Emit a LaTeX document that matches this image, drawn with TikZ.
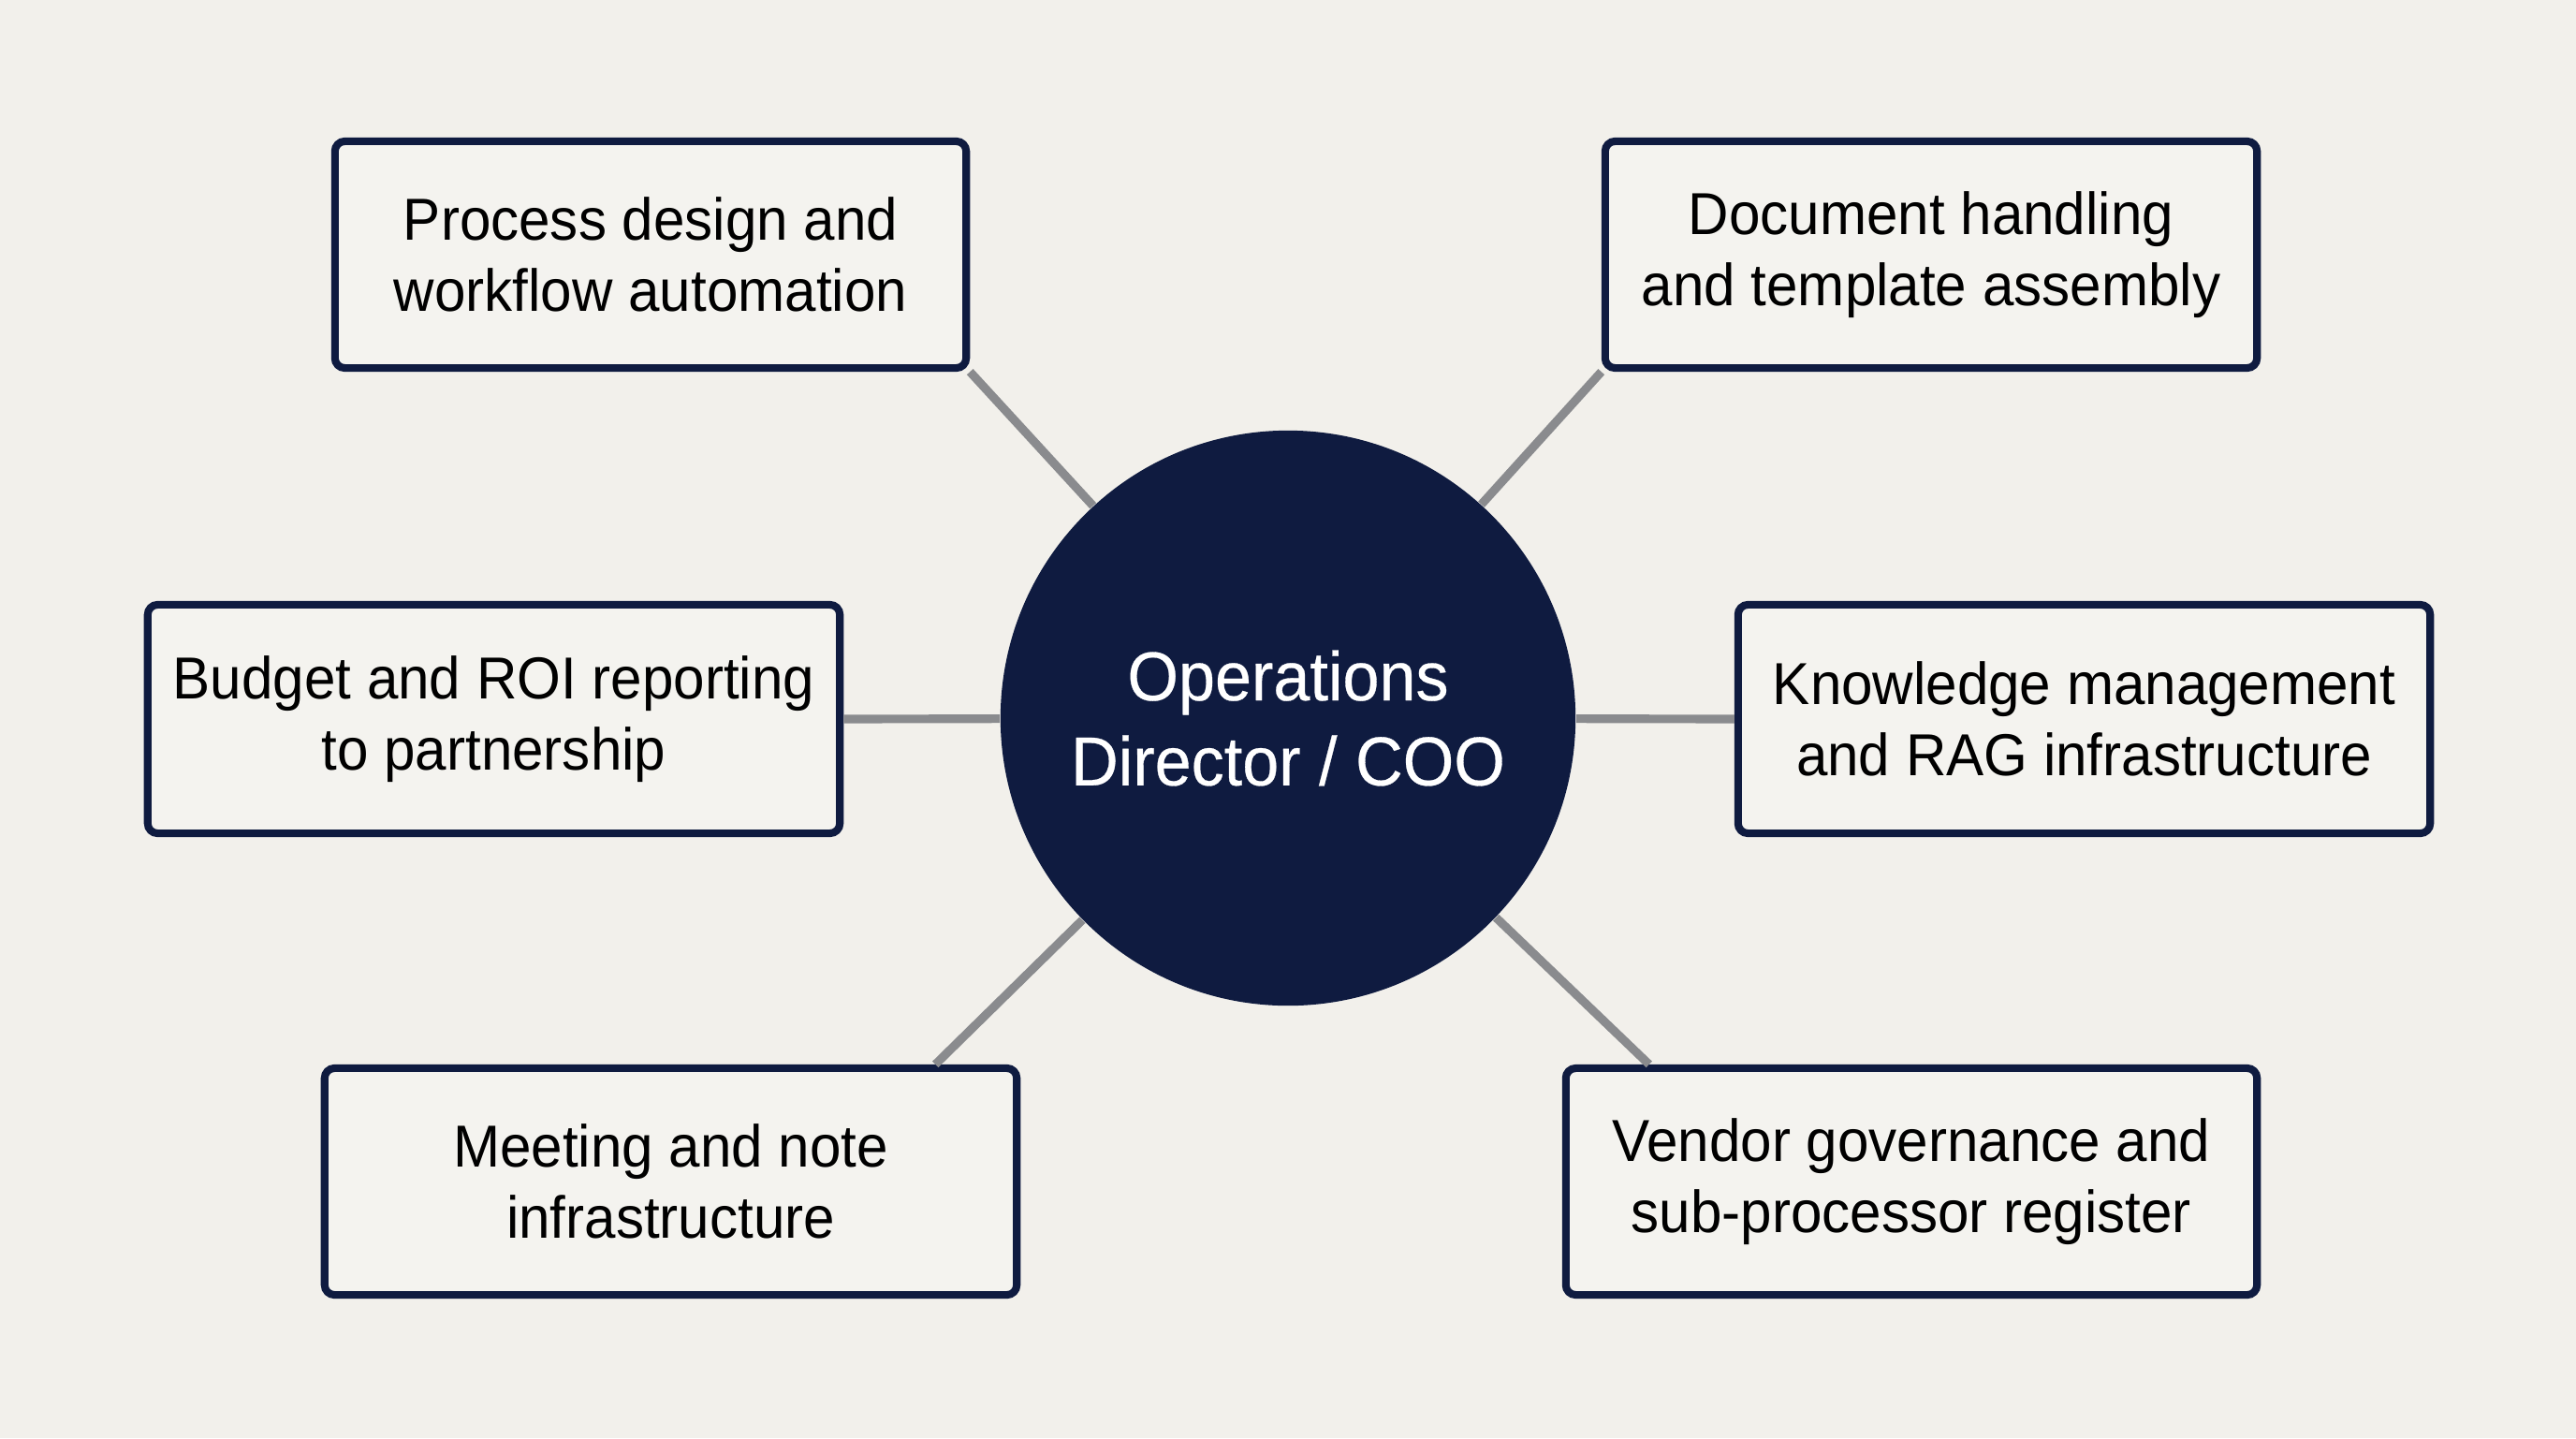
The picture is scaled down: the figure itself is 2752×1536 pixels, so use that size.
\documentclass[tikz,border=0pt]{standalone}
\usepackage{fontspec}
\setmainfont{Liberation Sans}
\newfontfamily\boxfont[FakeStretch=0.95]{Liberation Sans}
\newfontfamily\hubfont[FakeStretch=0.95,FakeBold=0.4]{Liberation Sans}
\usetikzlibrary{calc}
\definecolor{bgc}{HTML}{F2F0EB}
\definecolor{boxfill}{HTML}{F4F3EF}
\definecolor{navy}{HTML}{0F1B40}
\definecolor{linec}{HTML}{8A8B8E}
\tikzset{
  topic/.style={draw=navy, line width=2.3pt, fill=boxfill, rounded corners=3pt,
    inner sep=0pt, align=center, font=\boxfont\fontsize{18pt}{21.8pt}\selectfont, text=black},
  hub/.style={circle, fill=navy, inner sep=0pt, minimum size=6.14cm, align=center,
    font=\hubfont\fontsize{21pt}{25.8pt}\selectfont, text=white},
  link/.style={draw=linec, line width=2.6pt}
}
\begin{document}
\begin{tikzpicture}[x=0.01cm, y=-0.01cm]
\fill[bgc] (0,0) rectangle (2752,1536);
\useasboundingbox (0,0) rectangle (2752,1536);
% hub
\node[hub] (c) at (1376,767) {Operations\\Director / COO};
% topics
\node[topic, minimum width=6.74cm, minimum height=2.42cm] (tl) at (695,272) {Process design and\\workflow automation};
\node[topic, minimum width=6.96cm, minimum height=2.42cm] (tr) at (2063,272) {Document handling\\and template assembly};
\node[topic, minimum width=7.39cm, minimum height=2.44cm] (ml) at (527.5,768) {Budget and ROI reporting\\to partnership};
\node[topic, minimum width=7.39cm, minimum height=2.44cm] (mr) at (2226.5,768) {Knowledge management\\and RAG infrastructure};
\node[topic, minimum width=7.39cm, minimum height=2.42cm] (bl) at (716.5,1262) {Meeting and note\\infrastructure};
\node[topic, minimum width=7.38cm, minimum height=2.42cm] (br) at (2042,1262) {Vendor governance and\\sub-processor register};
% connectors
\coordinate (blx) at ($(bl.north east)+(-91,0)$);
\coordinate (brx) at ($(br.north west)+(93,0)$);
\draw[link] (tl.south east) -- (c);
\draw[link] (tr.south west) -- (c);
\draw[link] (ml.east) -- (c);
\draw[link] (mr.west) -- (c);
\draw[link] (blx) -- (c);
\draw[link] (brx) -- (c);
\end{tikzpicture}
\end{document}
